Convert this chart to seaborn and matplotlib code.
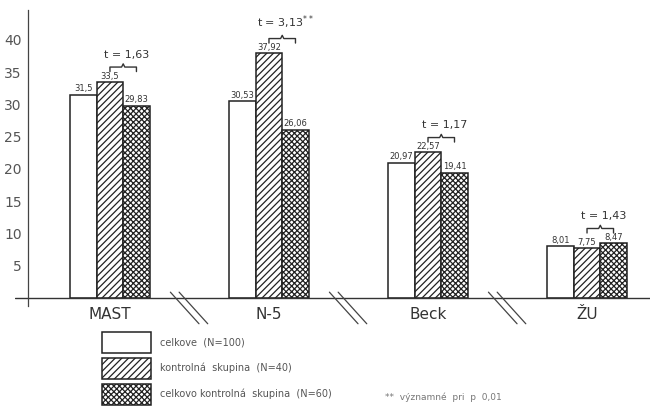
import numpy as np
import pandas as pd
import matplotlib
matplotlib.use("Agg")
import matplotlib.pyplot as plt
import seaborn as sns

tests = ["MAST", "N-5", "Beck", "ŽU"]
groups = ["celkove  (N=100)", "kontrolná  skupina  (N=40)", "celkovo kontrolná  skupina  (N=60)"]
vals_total = [31.5, 30.53, 20.97, 8.01]
vals_control = [33.5, 37.92, 22.57, 7.75]
vals_exp = [29.83, 26.06, 19.41, 8.47]
labels_total = ["31,5", "30,53", "20,97", "8,01"]
labels_control = ["33,5", "37,92", "22,57", "7,75"]
labels_exp = ["29,83", "26,06", "19,41", "8,47"]
t_labels = ["t = 1,63", r"t = 3,13$^{**}$", "t = 1,17", "t = 1,43"]
yticks = [5, 10, 15, 20, 25, 30, 35, 40]
footnote = "**  významné  pri  p  0,01"

sns.set_style("white")
plt.rcParams["font.family"] = ["DejaVu Sans"]
plt.rcParams["hatch.linewidth"] = 0.9
plt.rcParams["hatch.color"] = "#222222"

df = pd.DataFrame({
    "test": tests * 3,
    "group": [groups[0]] * 4 + [groups[1]] * 4 + [groups[2]] * 4,
    "value": vals_total + vals_control + vals_exp,
})

fig = plt.figure(figsize=(6.58, 4.08), dpi=100)
ax = fig.add_axes([15 / 658, 1 - 305.7 / 408, 635 / 658, (305.7 - 10.3) / 408])

sns.barplot(data=df, x="test", y="value", hue="group", order=tests, hue_order=groups,
            palette=["white"] * 3, edgecolor="#222222", linewidth=1.1, width=0.5,
            legend=False, ax=ax, errorbar=None)

hatches = ["", "/////", "xxxxxx"]
for cont, h in zip(ax.containers, hatches):
    for p in cont.patches:
        p.set_hatch(h)

for cont, labs in zip(ax.containers, [labels_total, labels_control, labels_exp]):
    ax.bar_label(cont, labels=labs, fontsize=6, color="#333333", padding=1)

ax.set_xlim(-0.597, 3.396)
ax.set_ylim(-1.2, 44.6)
ax.set_xlabel("")
ax.set_ylabel("")
ax.set_yticks(yticks)
ax.set_yticklabels([str(v) for v in yticks], fontsize=6, color="#999999")
ax.tick_params(axis="y", direction="inout", length=5, width=0.8, colors="#555555", pad=2)
for lab in ax.get_yticklabels():
    lab.set_color("#999999")
ax.tick_params(axis="x", length=0, pad=1, labelsize=11, labelcolor="#333333")

for s in ["top", "right", "bottom"]:
    ax.spines[s].set_visible(False)
ax.spines["left"].set_position(("data", -0.516))
ax.spines["left"].set_color("#444444")
ax.spines["left"].set_linewidth(0.9)
ax.axhline(0, color="#333333", lw=1.0)

# break marks between groups
for c in [0.5, 1.5, 2.5]:
    for off in [0.0, 0.055]:
        ax.plot([c - 0.12 + off, c + 0.06 + off], [0.9, -4.0], color="#444444",
                lw=0.9, clip_on=False)

# t-test braces
c2 = ax.containers[1].patches
c3 = ax.containers[2].patches
for i, t in enumerate(t_labels):
    x1 = c2[i].get_x() + c2[i].get_width() / 2
    x2 = c3[i].get_x() + c3[i].get_width() / 2
    y = max(c2[i].get_height(), c3[i].get_height()) + 2.3
    xm = (x1 + x2) / 2
    ax.plot([x1, x1, xm - 0.01, xm, xm + 0.01, x2, x2],
            [y - 0.7, y, y, y + 0.5, y, y, y - 0.7], color="#333333", lw=1.0)
    ax.text(xm + 0.02, y + 1.1, t, ha="center", va="bottom", fontsize=8, color="#333333")

handles = [cont.patches[0] for cont in ax.containers]
leg = fig.legend(handles, groups, loc="upper left", bbox_to_anchor=(98 / 658, 1 - 328 / 408),
                 frameon=False, fontsize=7, handlelength=5.0, handleheight=2.9,
                 labelspacing=0.55, handletextpad=1.0, borderaxespad=0)
for txt in leg.get_texts():
    txt.set_color("#555555")

fig.text(385 / 658, 1 - 397 / 408, footnote, fontsize=6.5, color="#777777", va="center")

fig.savefig("out.png", dpi=100)
